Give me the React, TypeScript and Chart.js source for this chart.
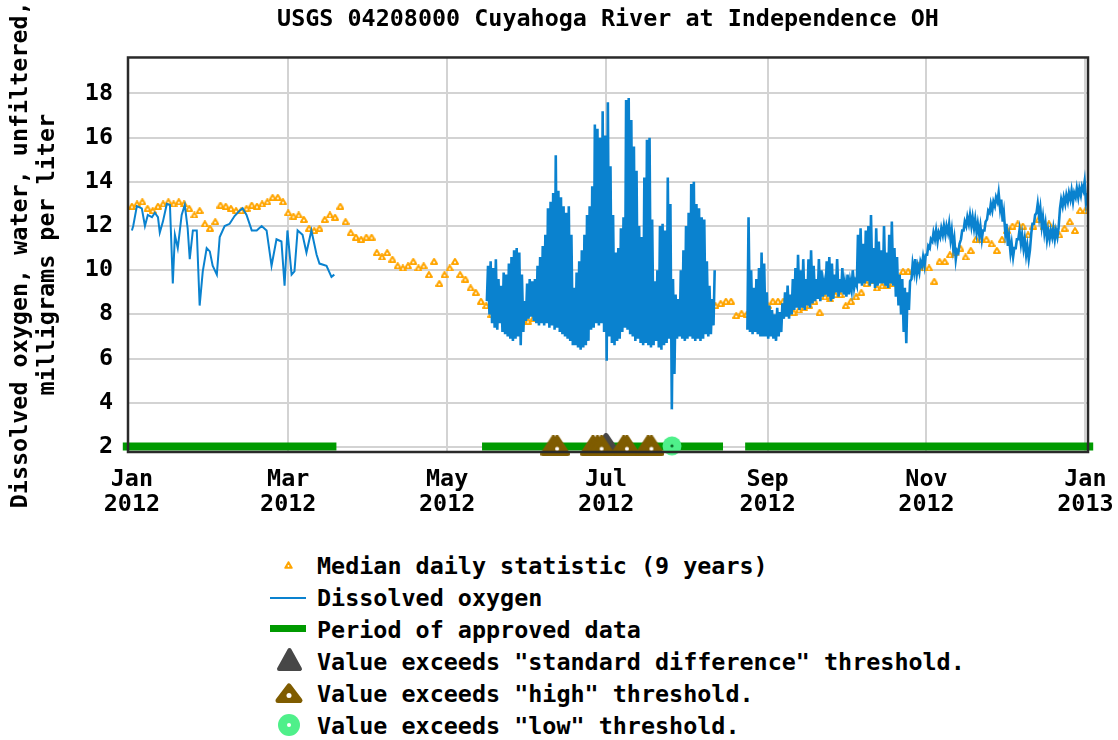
import React, { useEffect, useRef } from "react";
import { Chart, registerables } from "chart.js";

Chart.register(...registerables);

// ---------------- text ----------------
const TITLE = "USGS 04208000 Cuyahoga River at Independence OH";
const Y_TITLE = ["Dissolved oxygen, water, unfiltered,", "milligrams per liter"];
const LEGEND_LABELS = [
  "Median daily statistic (9 years)",
  "Dissolved oxygen",
  "Period of approved data",
  'Value exceeds "standard difference" threshold.',
  'Value exceeds "high" threshold.',
  'Value exceeds "low" threshold.',
];

// ---------------- axes (x in days since 2012-01-01) ----------------
const X_MIN = -1.5;
const X_MAX = 367;
const X_TICK_DAYS = [0, 60, 121, 182, 244, 305, 366];
const X_TICK_LABELS = [
  ["Jan", "2012"],
  ["Mar", "2012"],
  ["May", "2012"],
  ["Jul", "2012"],
  ["Sep", "2012"],
  ["Nov", "2012"],
  ["Jan", "2013"],
];
const Y_MIN = 1.77;
const Y_MAX = 19.63;
const Y_TICKS = [2, 4, 6, 8, 10, 12, 14, 16, 18];

// ---------------- median daily statistic (one value every 2 days, from day 0) ----------------
const MEDIAN_STEP = 2;
const MEDIAN_VALUES = [
  12.9, 13.0, 13.1, 12.8, 12.7, 12.9, 13.0, 13.1, 13.0, 13.1,
  13.0, 12.8, 12.5, 12.7, 12.1, 11.9, 12.2, 12.95, 12.9, 12.8,
  12.7, 12.7, 12.8, 12.95, 12.9, 13.0, 13.1, 13.3, 13.3, 13.1,
  12.6, 12.45, 12.5, 12.3, 11.9, 11.8, 11.9, 12.3, 12.5, 12.4,
  12.9, 12.2, 11.7, 11.5, 11.4, 11.5, 11.5, 10.8, 10.6, 10.8,
  10.5, 10.2, 10.1, 10.2, 10.4, 10.1, 10.2, 9.8, 10.4, 9.4,
  9.8, 10.1, 10.4, 9.8, 9.6, 9.2, 9.0, 8.6, 8.4, 8.0,
  7.9, 7.95, 8.1, 7.9, 7.8, 7.7, 7.7, 7.8, 7.8, 7.9,
  7.8, 7.7, 7.8, 7.9, 7.8, 7.9, 7.9, 8.0, 7.95, 8.0,
  8.1, 8.0, 8.1, 8.2, 8.1, 8.0, 7.9, 7.9, 7.8, 7.8,
  7.9, 7.7, 7.7, 7.6, 7.6, 7.8, 7.9, 8.0, 8.1, 8.2,
  8.2, 8.3, 8.4, 8.5, 8.6, 8.6, 7.95, 8.05, 8.0, 8.3,
  8.4, 8.2, 8.4, 8.6, 8.6, 8.6, 8.3, 8.1, 8.2, 8.3,
  8.4, 8.6, 8.1, 8.8, 8.7, 8.9, 8.9, 8.4, 8.6, 8.8,
  9.0, 9.4, 9.55, 9.2, 9.3, 9.3, 9.4, 9.5, 9.95, 9.95,
  10.0, 10.2, 10.1, 10.1, 9.5, 10.4, 10.4, 10.7, 10.8, 11.0,
  10.6, 10.9, 11.4, 11.4, 11.4, 11.2, 10.9, 11.4, 11.8, 12.0,
  12.1, 12.0, 11.6, 12.0, 12.3, 12.0, 12.1, 11.9, 11.6, 11.9,
  12.2, 11.8, 12.7, 12.7,
];

// ---------------- dissolved oxygen ----------------
// winter record (Jan - Mar), time in days
const WINTER_DAYS = [
  0, 0.5, 1.9, 3.8, 5.0, 6.1, 7.7, 8.8, 10.0, 10.7,
  11.9, 13.4, 14.6, 15.7, 16.5, 17.6, 19.1, 20.3, 21.4, 22.2,
  23.4, 24.9, 26.0, 27.2, 28.7, 29.9, 31.0, 32.6, 33.7, 35.6,
  37.5, 39.4, 41.4, 42.5, 44.0, 46.0, 47.9, 49.8, 51.7, 53.6,
  55.5, 57.4, 58.6, 59.7, 61.3, 62.4, 63.6, 65.5, 67.0, 68.9,
  70.9, 72.0, 74.7, 76.6, 77.7,
];
const WINTER_VALUES = [
  11.8, 12.0, 12.9, 12.8, 12.0, 12.5, 12.4, 12.6, 12.4, 11.7,
  12.2, 13.0, 12.95, 9.4, 11.6, 11.0, 12.5, 12.95, 11.9, 10.5,
  11.8, 11.8, 8.4, 9.95, 11.0, 10.85, 10.2, 9.8, 11.5, 12.0,
  12.1, 12.45, 12.7, 12.8, 12.5, 11.8, 11.8, 12.0, 11.8, 10.2,
  11.4, 11.3, 9.3, 11.8, 9.8, 9.95, 11.8, 11.6, 10.8, 11.8,
  10.7, 10.3, 10.2, 9.7, 9.8,
];

// summer record: daily max / min, days 136 .. 223
const SUMMER_FIRST_DAY = 136;
const SUMMER_MAX = [
  10.2, 10.4, 10.1, 10.5, 9.6, 9.3, 9.9, 9.8, 10.3, 10.6,
  10.9, 11.0, 10.8, 9.8, 8.6, 9.4, 9.6, 9.5, 9.6, 10.2,
  10.6, 11.1, 11.6, 12.8, 13.1, 13.5, 15.2, 13.6, 13.3, 12.9,
  12.6, 12.9, 11.6, 9.2, 9.9, 10.4, 10.9, 11.6, 12.5, 12.9,
  13.8, 16.6, 16.4, 16.0, 17.2, 16.1, 17.6, 14.7, 12.5, 10.8,
  11.0, 11.9, 12.4, 17.7, 17.8, 16.8, 15.6, 14.5, 12.0, 11.5,
  14.2, 15.9, 16.0, 12.3, 9.5, 10.0, 12.0, 12.1, 11.8, 14.2,
  13.0, 9.6, 8.9, 8.7, 10.0, 10.9, 12.0, 12.6, 13.9, 14.0,
  13.0, 12.8, 12.4, 12.3, 10.4, 9.3, 8.7, 10.0,
];
const SUMMER_MIN = [
  8.6, 8.0, 7.6, 7.4, 7.3, 7.6, 7.2, 7.1, 7.0, 6.9,
  6.8, 6.9, 7.0, 6.6, 7.2, 7.7, 7.8, 7.9, 7.7, 7.6,
  7.5, 7.6, 7.5, 7.6, 7.4, 7.5, 7.3, 7.4, 7.2, 7.1,
  7.0, 6.9, 6.8, 6.6, 6.6, 6.5, 6.4, 6.5, 6.6, 6.8,
  7.3, 7.4, 7.6, 7.5, 7.6, 7.2, 5.9, 7.0, 6.7, 6.6,
  6.8, 6.9, 7.2, 7.4, 7.3, 7.1, 7.0, 6.8, 6.9, 6.7,
  6.6, 6.7, 6.6, 6.5, 6.6, 6.8, 6.5, 6.4, 6.6, 6.7,
  6.9, 3.7, 5.3, 6.9, 7.0, 6.9, 6.8, 6.9, 7.0, 6.9,
  6.8, 6.9, 6.8, 6.9, 7.1, 7.0, 7.1, 7.5,
];

// autumn / winter record: daily max / min, days 236 .. 366
const AUTUMN_FIRST_DAY = 236;
const AUTUMN_MAX = [
  12.4, 10.0, 9.2, 9.6, 10.1, 10.8, 10.3, 9.0, 8.4, 8.2,
  8.0, 8.3, 8.1, 8.5, 9.0, 9.3, 8.9, 9.6, 10.1, 10.7,
  10.0, 10.5, 9.6, 10.5, 10.9, 10.2, 9.6, 10.5, 10.0, 9.4,
  10.4, 10.6, 10.3, 9.8, 10.5, 9.6, 10.1, 9.4, 9.8, 9.5,
  10.0, 9.5, 11.6, 11.9, 11.2, 11.8, 12.0, 12.5, 11.0, 11.9,
  11.3, 10.9, 12.0, 10.8, 11.6, 12.2, 11.0, 10.6, 9.8, 9.6,
  9.2, 9.0, 9.5, 10.3, 10.5, 10.2, 10.4, 10.6,
  10.7, 11.1, 11.4, 11.7, 11.8, 11.7, 11.9, 12.0, 12.0, 12.1,
  11.8, 11.4, 10.9, 11.2, 11.8, 12.2, 12.4, 12.5, 12.4, 12.3,
  12.1, 12.0, 11.8, 12.2, 12.7, 13.0, 13.1, 13.3, 13.5, 13.2,
  12.6, 12.1, 11.5, 11.2, 11.0, 11.4, 11.8, 11.6, 11.4, 11.1,
  10.9, 12.1, 12.5, 13.0, 12.8, 12.4, 12.1, 11.8, 11.8, 11.9,
  11.8, 11.9, 13.2, 13.3, 13.4, 13.5, 13.6, 13.5, 13.7, 13.7,
  13.8, 14.0, 13.5,
];
const AUTUMN_MIN = [
  7.3, 7.2, 7.1, 7.2, 7.1, 7.0, 7.0, 7.0, 6.9, 7.0,
  6.9, 6.8, 7.0, 7.2, 7.8, 7.9, 7.8, 8.0, 8.2, 8.3,
  8.2, 8.3, 8.2, 8.4, 8.3, 8.5, 8.6, 8.7, 8.6, 8.8,
  8.9, 8.8, 8.6, 8.7, 9.0, 8.8, 9.0, 8.9, 8.8, 8.9,
  9.1, 9.2, 9.3, 9.4, 9.3, 9.4, 9.5, 9.3, 9.4, 9.2,
  9.3, 9.4, 9.4, 9.3, 9.2, 9.4, 9.3, 8.8, 8.4, 8.0,
  7.2, 6.7, 8.2, 9.6, 9.9, 9.8, 9.9, 10.2,
  10.2, 10.7, 11.0, 11.3, 11.4, 11.3, 11.5, 11.6, 11.6, 11.7,
  11.4, 11.0, 10.5, 10.8, 11.4, 11.8, 12.0, 12.1, 12.0, 11.9,
  11.7, 11.6, 11.4, 11.8, 12.3, 12.6, 12.7, 12.9, 13.1, 12.8,
  12.2, 11.7, 11.1, 10.8, 10.6, 11.0, 11.4, 11.2, 11.0, 10.7,
  10.5, 11.7, 12.1, 12.6, 12.4, 12.0, 11.7, 11.4, 11.4, 11.5,
  11.4, 11.5, 12.8, 12.9, 13.0, 13.1, 13.2, 13.1, 13.3, 13.3,
  13.4, 13.6, 13.1,
];
// time of day (fraction) of the daily minimum and maximum
const DAILY_MIN_TIME = 0.25;
const DAILY_MAX_TIME = 0.7;

// ---------------- approved-data periods (days) ----------------
const APPROVED_START = [-3.5, 134.4, 235.4];
const APPROVED_END = [78.5, 226.9, 369];
const APPROVED_LEVEL = 2.02;

// ---------------- threshold flags (days) ----------------
const HIGH_DAYS = [161.8, 163.2, 177, 178.7, 180.3, 188.8, 190, 198.2, 199.4];
const HIGH_LEVEL = 2.05;
const SD_DAYS = [182];
const SD_LEVEL = 2.2;
const LOW_DAYS = [207.3];
const LOW_LEVEL = 2.05;

// ---------------- style ----------------
const FONT_FAMILY = '"DejaVu Sans Mono", "Liberation Mono", monospace';
const FONT_SIZE = 23.4;
const C_BLUE = "#0a82cf";
const C_ORANGE = "#ffa500";
const C_GREEN = "#009a00";
const C_BROWN = "#7f5c00";
const C_GRAY = "#474747";
const C_LOW = "#4ff08a";
const C_GRID = "#d3d3d3";

function makeTriangle(w: number, h: number, color: string, lw: number, dot: string | null, dotR: number) {
  const c = document.createElement("canvas");
  c.width = w;
  c.height = h;
  const g = c.getContext("2d")!;
  g.fillStyle = color;
  g.strokeStyle = color;
  g.lineJoin = "round";
  g.lineWidth = lw;
  const m = lw / 2;
  g.beginPath();
  g.moveTo(w / 2, m);
  g.lineTo(w - m, h - m);
  g.lineTo(m, h - m);
  g.closePath();
  g.fill();
  g.stroke();
  if (dot) {
    g.fillStyle = dot;
    g.beginPath();
    g.arc(w / 2, h * 0.64, dotR, 0, Math.PI * 2);
    g.fill();
  }
  return c;
}

function makeCircle(d: number, color: string, dot: string, dotR: number) {
  const c = document.createElement("canvas");
  c.width = d;
  c.height = d;
  const g = c.getContext("2d")!;
  g.fillStyle = color;
  g.beginPath();
  g.arc(d / 2, d / 2, d / 2 - 0.5, 0, Math.PI * 2);
  g.fill();
  g.fillStyle = dot;
  g.beginPath();
  g.arc(d / 2, d / 2, dotR, 0, Math.PI * 2);
  g.fill();
  return c;
}

const framePlugin = {
  id: "frame",
  afterDatasetsDraw(chart: any) {
    const { ctx, chartArea: a } = chart;
    ctx.save();
    ctx.strokeStyle = "#2a2a2a";
    ctx.lineWidth = 2.5;
    ctx.strokeRect(a.left, a.top, a.right - a.left, a.bottom - a.top);
    ctx.restore();
  },
};

type Pt = { x: number; y: number | null };

function buildWinter(): Pt[] {
  return WINTER_DAYS.map((d, i) => ({ x: d, y: WINTER_VALUES[i] }));
}

function buildDiurnal(): Pt[] {
  const pts: Pt[] = [];
  SUMMER_MAX.forEach((mx, i) => {
    const d = SUMMER_FIRST_DAY + i;
    pts.push({ x: d + DAILY_MIN_TIME, y: SUMMER_MIN[i] });
    pts.push({ x: d + DAILY_MAX_TIME, y: mx });
  });
  pts.push({ x: 230, y: null });
  AUTUMN_MAX.forEach((mx, i) => {
    const d = AUTUMN_FIRST_DAY + i;
    pts.push({ x: d + DAILY_MIN_TIME, y: AUTUMN_MIN[i] });
    pts.push({ x: d + DAILY_MAX_TIME, y: mx });
  });
  return pts;
}

function buildApproved(): Pt[] {
  const pts: Pt[] = [];
  APPROVED_START.forEach((s, i) => {
    if (i > 0) pts.push({ x: (APPROVED_END[i - 1] + s) / 2, y: null });
    pts.push({ x: s, y: APPROVED_LEVEL });
    pts.push({ x: APPROVED_END[i], y: APPROVED_LEVEL });
  });
  return pts;
}

const tickFont = { family: FONT_FAMILY, size: FONT_SIZE, weight: "bold" as const };

function Legend() {
  const rows = [566, 598, 630, 662, 694, 726];
  return (
    <>
      <svg width={60} height={200} style={{ position: "absolute", left: 260, top: 545 }}>
        <polygon points="28.5,17 32,23 25,23" fill={C_ORANGE} stroke={C_ORANGE} strokeWidth={1.5} strokeLinejoin="round" />
        <circle cx={28.5} cy={21} r={0.9} fill="#fff" />
        <line x1={10} x2={46} y1={53} y2={53} stroke={C_BLUE} strokeWidth={2} />
        <line x1={10} x2={46} y1={83.5} y2={83.5} stroke={C_GREEN} strokeWidth={7} />
        <polygon points="29.5,105 40,124 19,124" fill={C_GRAY} stroke={C_GRAY} strokeWidth={4} strokeLinejoin="round" />
        <polygon points="29,141 40,155.5 18,155.5" fill={C_BROWN} stroke={C_BROWN} strokeWidth={5} strokeLinejoin="round" />
        <circle cx={29} cy={150.5} r={2.5} fill="#fff" />
        <circle cx={29} cy={180} r={11} fill={C_LOW} />
        <circle cx={29} cy={180} r={2} fill="#fff" />
      </svg>
      {LEGEND_LABELS.map((t, i) => (
        <div
          key={i}
          style={{
            position: "absolute",
            left: 317,
            top: rows[i] - 16,
            height: 32,
            lineHeight: "32px",
            fontFamily: FONT_FAMILY,
            fontWeight: "bold",
            fontSize: FONT_SIZE,
            color: "#000",
            whiteSpace: "pre",
          }}
        >
          {t}
        </div>
      ))}
    </>
  );
}

export default function App() {
  const ref = useRef<HTMLCanvasElement>(null);

  useEffect(() => {
    const canvas = ref.current;
    if (!canvas) return;
    const medianMarker = makeTriangle(8, 7, C_ORANGE, 2, "#fff", 1);
    const highMarker = makeTriangle(26, 21, C_BROWN, 5, "#fff", 2);
    const sdMarker = makeTriangle(24, 19, C_GRAY, 5, null, 0);
    const lowMarker = makeCircle(20, C_LOW, "#0b6b2b", 1.6);

    const chart = new Chart(canvas, {
      type: "line",
      data: {
        datasets: [
          {
            label: LEGEND_LABELS[4],
            data: HIGH_DAYS.map((d) => ({ x: d, y: HIGH_LEVEL })),
            showLine: false,
            pointStyle: highMarker as any,
            pointRadius: 10,
            clip: false as any,
          },
          {
            label: LEGEND_LABELS[3],
            data: SD_DAYS.map((d) => ({ x: d, y: SD_LEVEL })),
            showLine: false,
            pointStyle: sdMarker as any,
            pointRadius: 10,
            clip: false as any,
          },
          {
            label: LEGEND_LABELS[5],
            data: LOW_DAYS.map((d) => ({ x: d, y: LOW_LEVEL })),
            showLine: false,
            pointStyle: lowMarker as any,
            pointRadius: 10,
            clip: false as any,
          },
          {
            label: LEGEND_LABELS[2],
            data: buildApproved() as any,
            borderColor: C_GREEN,
            borderWidth: 8,
            borderCapStyle: "butt",
            pointRadius: 0,
            spanGaps: false,
            clip: false as any,
          },
          {
            label: LEGEND_LABELS[1],
            data: buildDiurnal() as any,
            borderColor: C_BLUE,
            borderWidth: 2.6,
            pointRadius: 0,
            tension: 0,
            spanGaps: false,
          },
          {
            label: LEGEND_LABELS[1],
            data: buildWinter() as any,
            borderColor: C_BLUE,
            borderWidth: 2,
            pointRadius: 0,
            tension: 0,
          },
          {
            label: LEGEND_LABELS[0],
            data: MEDIAN_VALUES.map((v, i) => ({ x: i * MEDIAN_STEP, y: v })),
            showLine: false,
            pointStyle: medianMarker as any,
            pointRadius: 4,
          },
        ],
      },
      options: {
        responsive: false,
        animation: false,
        devicePixelRatio: 1,
        events: [],
        layout: { padding: { left: 0, right: 30, top: 0, bottom: 0 } },
        plugins: {
          legend: { display: false },
          tooltip: { enabled: false },
          title: {
            display: true,
            fullSize: false,
            text: TITLE,
            color: "#000",
            font: { family: FONT_FAMILY, size: FONT_SIZE, weight: "bold", lineHeight: 1.2 },
            padding: { top: 5.5, bottom: 23.9 },
          },
        },
        scales: {
          x: {
            type: "linear",
            min: X_MIN,
            max: X_MAX,
            afterBuildTicks: (s: any) => {
              s.ticks = X_TICK_DAYS.map((v) => ({ value: v }));
            },
            afterFit: (s: any) => {
              s.height = 68;
              s.paddingLeft = 0;
              s.paddingRight = 0;
            },
            ticks: {
              autoSkip: false,
              maxRotation: 0,
              minRotation: 0,
              padding: 15,
              color: "#000",
              font: { ...tickFont, lineHeight: 25 / 23 },
              callback: (v: any) => {
                const i = X_TICK_DAYS.indexOf(Number(v));
                return i >= 0 ? X_TICK_LABELS[i] : "";
              },
            },
            grid: {
              color: (c: any) =>
                c.tick && c.tick.value === X_TICK_DAYS[0] ? "rgba(0,0,0,0)" : C_GRID,
              lineWidth: 2,
              drawTicks: false,
            },
            border: { display: false },
          },
          y: {
            min: Y_MIN,
            max: Y_MAX,
            afterBuildTicks: (s: any) => {
              s.ticks = Y_TICKS.map((v) => ({ value: v }));
            },
            afterFit: (s: any) => {
              s.width = 128;
            },
            ticks: {
              padding: 15,
              color: "#000",
              font: tickFont,
              callback: (v: any) => String(v),
            },
            grid: { color: C_GRID, lineWidth: 2, drawTicks: false },
            border: { display: false },
            title: {
              display: true,
              text: Y_TITLE,
              color: "#000",
              font: { family: FONT_FAMILY, size: FONT_SIZE, weight: "bold", lineHeight: 27 / 23.4 },
              padding: { top: 7, bottom: 0 },
            },
          },
        },
      },
      plugins: [framePlugin],
    } as any);
    return () => chart.destroy();
  }, []);

  return (
    <div
      style={{
        position: "absolute",
        left: 0,
        top: 0,
        width: 1118,
        height: 740,
        background: "#fff",
        overflow: "hidden",
      }}
    >
      <canvas ref={ref} width={1118} height={520} style={{ display: "block" }} />
      <Legend />
    </div>
  );
}
